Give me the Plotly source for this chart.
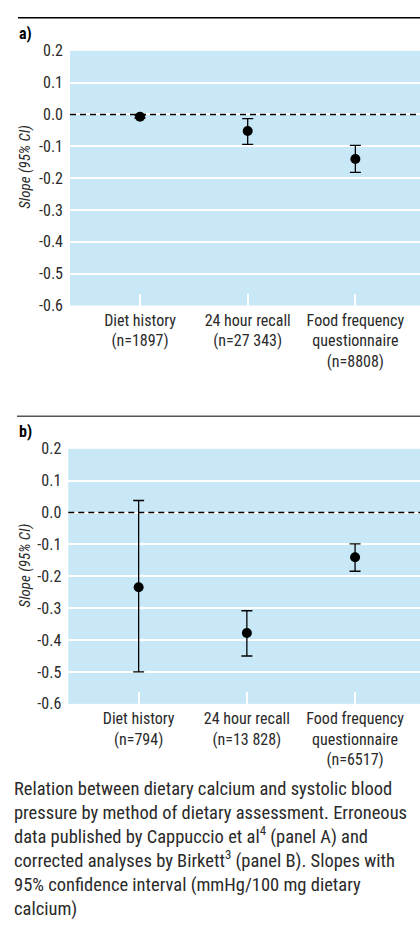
import plotly.graph_objects as go

# ---- data ----
categories = [0, 1, 2]
tick_labels_a = ["Diet history<br>(n=1897)", "24 hour recall<br>(n=27 343)",
                 "Food frequency<br>questionnaire<br>(n=8808)"]
tick_labels_b = ["Diet history<br>(n=794)", "24 hour recall<br>(n=13 828)",
                 "Food frequency<br>questionnaire<br>(n=6517)"]
slope_a = [-0.007, -0.052, -0.140]
lower_a = [-0.011, -0.094, -0.182]
upper_a = [-0.003, -0.013, -0.097]
slope_b = [-0.234, -0.378, -0.140]
lower_b = [-0.500, -0.450, -0.184]
upper_b = [0.038, -0.308, -0.098]
y_ticks = [0.2, 0.1, 0.0, -0.1, -0.2, -0.3, -0.4, -0.5, -0.6]
y_tick_text = ["0.2", "0.1", "0.0", "-0.1", "-0.2", "-0.3", "-0.4", "-0.5", "-0.6"]

W, H = 420, 931
FONT = "Liberation Sans Narrow, Arial Narrow, Roboto Condensed, Liberation Sans, sans-serif"
BG = "#c8e8f8"
TXT = "#2a2a2a"


def px_x(p):
    return p / W


def px_y(p):
    return 1 - p / H


fig = go.Figure()


def add_series(slope, lower, upper, xa, ya):
    fig.add_trace(go.Scatter(
        x=categories, y=slope, mode="markers",
        marker=dict(color="black", size=10),
        error_y=dict(type="data", symmetric=False,
                     array=[u - s for u, s in zip(upper, slope)],
                     arrayminus=[s - l for s, l in zip(slope, lower)],
                     color="black", thickness=1.3, width=5.5),
        xaxis=xa, yaxis=ya, showlegend=False, hoverinfo="skip"))


add_series(slope_a, lower_a, upper_a, "x", "y")
add_series(slope_b, lower_b, upper_b, "x2", "y2")

xcommon = dict(range=[-0.65, 2.6], tickmode="array", tickvals=categories,
               ticks="inside", ticklen=12, tickwidth=1.5, tickcolor="white",
               showgrid=False, zeroline=False, showline=False, ticklabelstandoff=3,
               tickfont=dict(family=FONT, size=16, color=TXT))
ycommon = dict(range=[-0.6, 0.2], tickmode="array", tickvals=y_ticks, ticktext=y_tick_text,
               showgrid=True, gridcolor="white", gridwidth=2, zeroline=False,
               showline=False, ticks="", ticklabelstandoff=6,
               tickfont=dict(family=FONT, size=16, color=TXT))

fig.update_layout(
    width=W, height=H, margin=dict(l=0, r=0, t=0, b=0),
    paper_bgcolor="white", plot_bgcolor=BG,
    xaxis=dict(domain=[px_x(70), 1.0], anchor="y", ticktext=tick_labels_a, **xcommon),
    yaxis=dict(domain=[px_y(302.7), px_y(42.7)], anchor="x", **ycommon),
    xaxis2=dict(domain=[px_x(68.3), 1.0], anchor="y2", ticktext=tick_labels_b, **xcommon),
    yaxis2=dict(domain=[px_y(709.3), px_y(449)], anchor="x2", **ycommon),
)

shapes = []
for xr, yr in (("x domain", "y"), ("x2 domain", "y2")):
    shapes.append(dict(type="line", xref=xr, yref=yr, x0=0, x1=1, y0=0, y1=0,
                       line=dict(color="black", width=1.5, dash="6px,4px"), layer="above"))
shapes.append(dict(type="line", xref="paper", yref="paper", x0=px_x(18), x1=1,
                   y0=px_y(9), y1=px_y(9), line=dict(color="black", width=1.5)))
shapes.append(dict(type="line", xref="paper", yref="paper", x0=px_x(17), x1=1,
                   y0=px_y(415.7), y1=px_y(415.7), line=dict(color="#555555", width=1.5)))
fig.update_layout(shapes=shapes)

ann = []
ann.append(dict(text="<b>a)</b>", x=px_x(17), y=px_y(25), xref="paper", yref="paper",
                xanchor="left", yanchor="middle", showarrow=False,
                font=dict(family=FONT, size=16, color="black")))
ann.append(dict(text="<b>b)</b>", x=px_x(17), y=px_y(431), xref="paper", yref="paper",
                xanchor="left", yanchor="middle", showarrow=False,
                font=dict(family=FONT, size=16, color="black")))
for yc in (161, 568):
    ann.append(dict(text="<i>Slope (95% CI)</i>", x=px_x(25), y=px_y(yc), xref="paper",
                    yref="paper", xanchor="center", yanchor="middle", textangle=-90,
                    showarrow=False, font=dict(family=FONT, size=15, color=TXT)))
caption = ("Relation between dietary calcium and systolic blood<br>"
           "pressure by method of dietary assessment. Erroneous<br>"
           "data published by Cappuccio et al<sup>4</sup> (panel A) and<br>"
           "corrected analyses by Birkett<sup>3</sup> (panel B). Slopes with<br>"
           "95% confidence interval (mmHg/100 mg dietary<br>"
           "calcium)")
ann.append(dict(text=caption, x=px_x(12), y=px_y(783), xref="paper", yref="paper",
                xanchor="left", yanchor="top", align="left", showarrow=False,
                font=dict(family=FONT, size=18.5, color=TXT)))
fig.update_layout(annotations=ann)

fig.write_html("out.html", config={"displayModeBar": False},
               post_script="document.body.style.margin='0';")
